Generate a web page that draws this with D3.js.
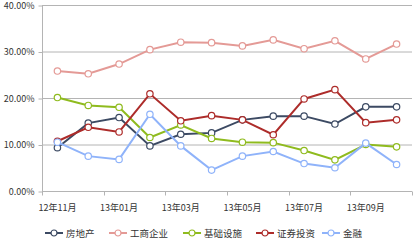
<!DOCTYPE html>
<html>
<head>
<meta charset="utf-8">
<script src="https://cdn.jsdelivr.net/npm/d3@7"></script>
<style>
  body { margin: 0; background: #fff; }
  text { font-family: "Noto Sans CJK SC", "DejaVu Sans", sans-serif; }
</style>
</head>
<body>
<div id="wrapper"></div>
<script>
const months = ["12年11月","12年12月","13年01月","13年02月","13年03月","13年04月",
                "13年05月","13年06月","13年07月","13年08月","13年09月","13年10月"];
const tickLabels = ["12年11月","13年01月","13年03月","13年05月","13年07月","13年09月"];
const yTicks = [0, 10, 20, 30, 40];

const seriesNames = ["房地产", "工商企业", "基础设施", "证券投资", "金融"];
const realEstate  = [9.3, 14.6, 15.8, 9.7, 12.2, 12.5, 15.3, 16.1, 16.1, 14.4, 18.1, 18.1];
const business    = [25.8, 25.2, 27.3, 30.4, 32.0, 31.9, 31.2, 32.5, 30.6, 32.3, 28.4, 31.6];
const infra       = [20.1, 18.4, 18.0, 11.5, 14.2, 11.3, 10.5, 10.4, 8.7, 6.7, 10.0, 9.5];
const securities  = [10.7, 13.7, 12.7, 20.9, 15.1, 16.2, 15.3, 12.1, 19.8, 21.8, 14.7, 15.3];
const finance     = [10.5, 7.5, 6.8, 16.5, 9.7, 4.5, 7.5, 8.5, 5.9, 5.0, 10.3, 5.7];
const colors = ["#3c4a63", "#e49a96", "#8fbb1e", "#ad2c2a", "#8fb3fa"];

const allSeries = [realEstate, business, infra, securities, finance];

const dimension = { width: 416, height: 241, left: 42, right: 4, top: 5, bottom: 50 };

const svg = d3.select("#wrapper").append("svg")
    .attr("width", dimension.width)
    .attr("height", dimension.height);

const xScaler = d3.scaleBand()
    .domain(months)
    .range([dimension.left, dimension.width - dimension.right]);

const yScaler = d3.scaleLinear()
    .domain([0, 40])
    .range([dimension.height - dimension.bottom, dimension.top]);

const xCenter = (m) => xScaler(m) + xScaler.bandwidth() / 2;

// gridlines
svg.append("g")
    .selectAll("line")
    .data(yTicks.slice(1))
    .join("line")
    .attr("x1", dimension.left)
    .attr("x2", dimension.width - dimension.right)
    .attr("y1", d => yScaler(d) + 0.5)
    .attr("y2", d => yScaler(d) + 0.5)
    .attr("stroke", "#b4b4b4")
    .attr("stroke-width", 1);

// y axis
const yAxis = d3.axisLeft(yScaler)
    .tickValues(yTicks)
    .tickSize(4)
    .tickPadding(4)
    .tickFormat(d => d.toFixed(2) + "%");

const yG = svg.append("g")
    .attr("transform", `translate(${dimension.left + 0.5},0.5)`)
    .call(yAxis);
yG.select(".domain").attr("stroke", "#b4b4b4").attr("d", `M0,${yScaler(40)}V${yScaler(0)}`);
yG.selectAll(".tick line").attr("stroke", "#b4b4b4");
yG.selectAll("text").attr("font-size", 9).attr("fill", "#333");

// x axis with ticks at category boundaries every 2 months
const xG = svg.append("g")
    .attr("transform", `translate(0,${yScaler(0) + 0.5})`);
xG.append("line")
    .attr("x1", dimension.left)
    .attr("x2", dimension.width - dimension.right)
    .attr("stroke", "#b4b4b4");
const boundaries = months.filter((m, i) => i % 2 === 0).map(m => xScaler(m))
    .concat([dimension.width - dimension.right]);
xG.selectAll("line.tk")
    .data(boundaries)
    .join("line")
    .attr("class", "tk")
    .attr("x1", d => Math.round(d) + 0.5)
    .attr("x2", d => Math.round(d) + 0.5)
    .attr("y1", 0)
    .attr("y2", 4)
    .attr("stroke", "#b4b4b4");
xG.selectAll("text")
    .data(tickLabels)
    .join("text")
    .attr("x", d => xCenter(d))
    .attr("y", 19)
    .attr("text-anchor", "middle")
    .attr("font-size", 9)
    .attr("fill", "#333")
    .text(d => d);

// lines
const lineGen = d3.line()
    .x((d, i) => xCenter(months[i]))
    .y(d => yScaler(d));

allSeries.forEach((values, s) => {
    const g = svg.append("g");
    g.append("path")
        .attr("d", lineGen(values))
        .attr("fill", "none")
        .attr("stroke", colors[s])
        .attr("stroke-width", 2);
    g.selectAll("circle")
        .data(values)
        .join("circle")
        .attr("cx", (d, i) => xCenter(months[i]))
        .attr("cy", d => yScaler(d))
        .attr("r", 3.2)
        .attr("fill", "#fff")
        .attr("stroke", colors[s])
        .attr("stroke-width", 1.2);
});

// legend
const legendX = [45, 109, 183, 256, 322];
const legend = svg.append("g").attr("transform", "translate(0,233)");
seriesNames.forEach((name, s) => {
    const item = legend.append("g").attr("transform", `translate(${legendX[s]},0)`);
    item.append("line")
        .attr("x1", 0).attr("x2", 18)
        .attr("stroke", colors[s]).attr("stroke-width", 2);
    item.append("circle")
        .attr("cx", 9).attr("cy", 0).attr("r", 3)
        .attr("fill", "#fff").attr("stroke", colors[s]).attr("stroke-width", 1.2);
    item.append("text")
        .attr("x", 21).attr("y", 3.5)
        .attr("font-size", 9.5)
        .attr("fill", "#333")
        .text(name);
});
</script>
</body>
</html>
